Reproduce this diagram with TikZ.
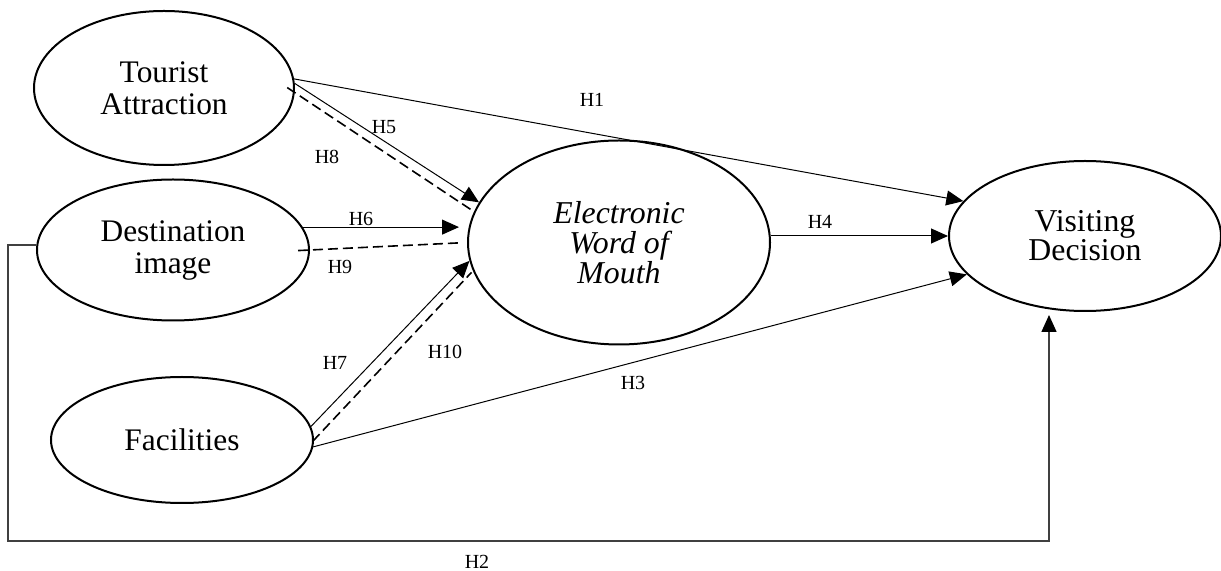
\documentclass[tikz,border=0pt]{standalone}
\usepackage{fontspec}
\setmainfont{Liberation Serif}
\usetikzlibrary{arrows.meta,shapes.geometric}

\begin{document}
\begin{tikzpicture}[x=0.5pt,y=-0.5pt,construct/.style={draw,ellipse,line width=1pt,inner sep=0pt,align=center,font=\fontsize{15.7}{16}\selectfont},hypo/.style={line width=0.5pt,-{Triangle[length=8.5pt,width=7.5pt]}},mediate/.style={line width=0.8pt,dash pattern=on 5pt off 2.5pt},hlabel/.style={inner sep=0pt,font=\fontsize{10}{12}\selectfont}]
\useasboundingbox (0,0) rectangle (1221,571);
\node[construct,minimum width=130pt,minimum height=77pt] (ta) at (164,88) {Tourist\\Attraction};
\node[construct,minimum width=136pt,minimum height=70.5pt] (di) at (173,250) {Destination\\image};
\node[construct,minimum width=131pt,minimum height=63pt] (fa) at (182,440) {Facilities};
\node[construct,minimum width=151pt,minimum height=102pt,font=\fontsize{15.9}{15}\selectfont\itshape] (ewom) at (619,242.5) {Electronic\\Word of\\Mouth};
\node[construct,minimum width=136pt,minimum height=75pt,font=\fontsize{15.9}{14.6}\selectfont] (vd) at (1085,236) {Visiting\\Decision};
\coordinate (h2a) at (8,541);
\coordinate (h2b) at (1049,541);
\draw[hypo] (ta.4) -- (vd.164);
\draw[hypo] (ta.2) -- (ewom.164);
\draw[mediate,shorten <=-4.5pt,shorten >=2pt] (ta.-2) -- (ewom.168);
\draw[hypo,shorten >=4pt] (di.10) -- (di.10 -| ewom.west);
\draw[mediate,shorten <=-6pt,shorten >=4pt] (di.east) -- (ewom.west);
\draw[hypo] (fa.6) -- (ewom.187);
\draw[mediate,shorten <=-1pt,shorten >=1pt] (fa.east) -- (ewom.191);
\draw[hypo] (fa.-3) -- (vd.198);
\draw[hypo] (ewom.east |- vd.west) -- (vd.west);
\draw[line width=0.75pt,draw=black!75,shorten >=1.5pt,-{Triangle[length=8.5pt,width=7.5pt,color=black]}] (di.178) -| (h2a) -- (h2b) -- (h2b |- vd.south);
\node[hlabel] (l1) at (592,100) {H1};
\node[hlabel] (l2) at (477,562) {H2};
\node[hlabel] (l3) at (633,383) {H3};
\node[hlabel] (l4) at (820,222) {H4};
\node[hlabel] (l5) at (384,127) {H5};
\node[hlabel] (l6) at (361,219) {H6};
\node[hlabel] (l7) at (335,363) {H7};
\node[hlabel] (l8) at (327,157) {H8};
\node[hlabel] (l9) at (340,267) {H9};
\node[hlabel] (l10) at (445,352) {H10};
\end{tikzpicture}
\end{document}
